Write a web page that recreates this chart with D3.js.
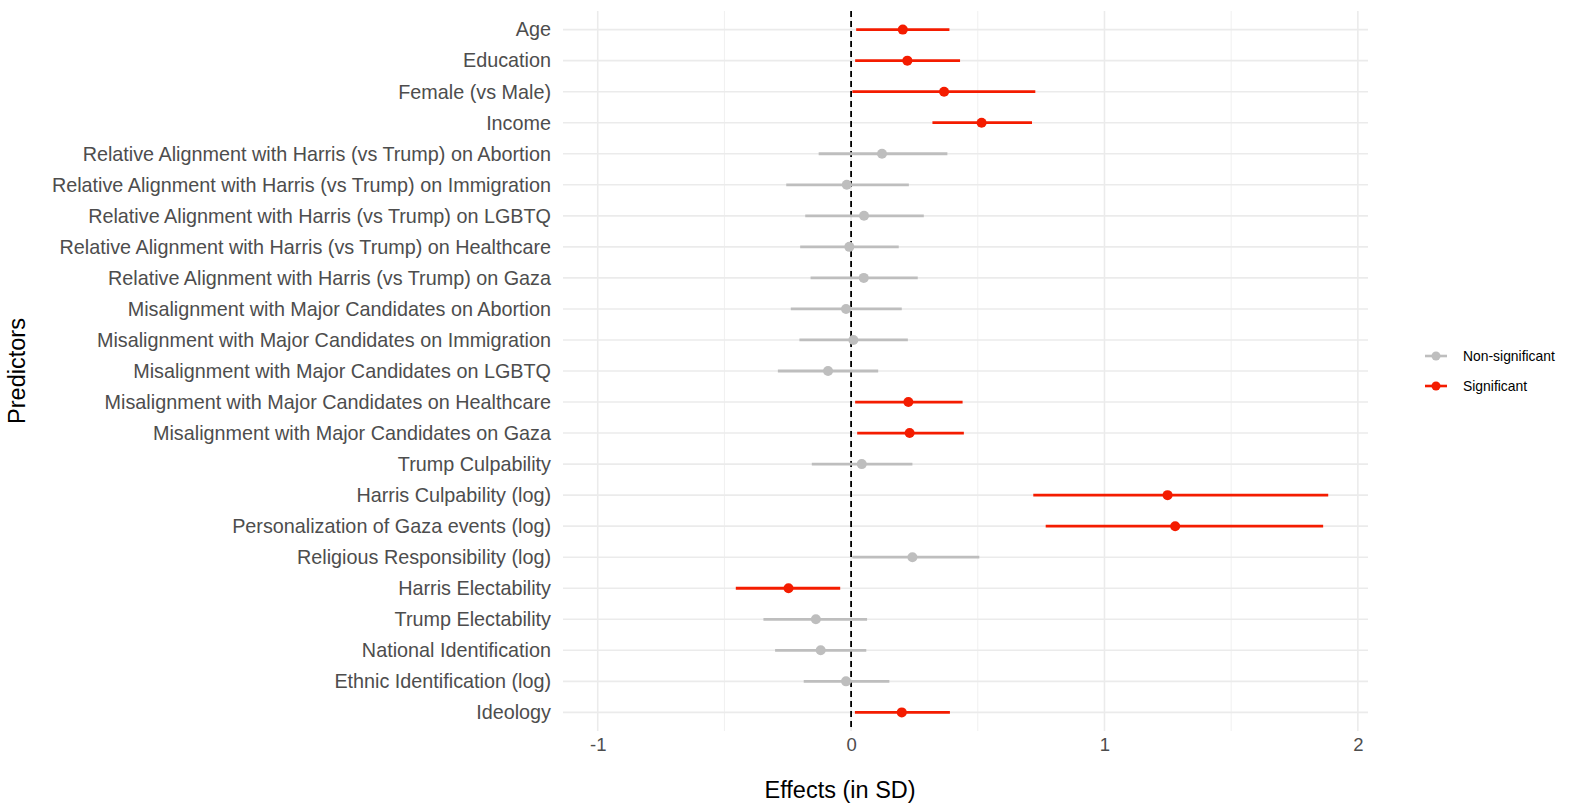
<!DOCTYPE html>
<html>
<head>
<meta charset="utf-8">
<script src="https://cdn.jsdelivr.net/npm/d3@7"></script>
<style>
  body { margin: 0; background: #fff; }
  svg { font-family: "Liberation Sans", Arial, sans-serif; }
</style>
</head>
<body>
<div id="container"></div>
<script>
const width = 1570;
const height = 804;

const predictors = [
  "Age", "Education", "Female (vs Male)", "Income",
  "Relative Alignment with Harris (vs Trump) on Abortion",
  "Relative Alignment with Harris (vs Trump) on Immigration",
  "Relative Alignment with Harris (vs Trump) on LGBTQ",
  "Relative Alignment with Harris (vs Trump) on Healthcare",
  "Relative Alignment with Harris (vs Trump) on Gaza",
  "Misalignment with Major Candidates on Abortion",
  "Misalignment with Major Candidates on Immigration",
  "Misalignment with Major Candidates on LGBTQ",
  "Misalignment with Major Candidates on Healthcare",
  "Misalignment with Major Candidates on Gaza",
  "Trump Culpability", "Harris Culpability (log)",
  "Personalization of Gaza events (log)", "Religious Responsibility (log)",
  "Harris Electability", "Trump Electability",
  "National Identification", "Ethnic Identification (log)", "Ideology"
];
const estimates = [0.204, 0.222, 0.367, 0.515, 0.122, -0.017, 0.051, -0.007, 0.050,
  -0.020, 0.009, -0.091, 0.226, 0.231, 0.042, 1.249, 1.279, 0.242,
  -0.247, -0.139, -0.120, -0.020, 0.200];
const lower = [0.020, 0.016, 0.005, 0.321, -0.128, -0.256, -0.181, -0.201, -0.160,
  -0.238, -0.204, -0.289, 0.016, 0.024, -0.155, 0.719, 0.768, 0.005,
  -0.455, -0.346, -0.300, -0.187, 0.015];
const upper = [0.388, 0.430, 0.727, 0.714, 0.380, 0.228, 0.287, 0.188, 0.263,
  0.200, 0.224, 0.107, 0.440, 0.445, 0.242, 1.883, 1.863, 0.506,
  -0.043, 0.063, 0.060, 0.151, 0.390];
const significance = ["Significant", "Significant", "Significant", "Significant",
  "Non-significant", "Non-significant", "Non-significant", "Non-significant", "Non-significant",
  "Non-significant", "Non-significant", "Non-significant", "Significant", "Significant",
  "Non-significant", "Significant", "Significant", "Non-significant",
  "Significant", "Non-significant", "Non-significant", "Non-significant", "Significant"];
const legendLabels = ["Non-significant", "Significant"];
const xTicks = [-1, 0, 1, 2];
const xMinor = [-0.5, 0.5, 1.5];

const rows = predictors.map((p, i) => ({
  name: p, est: estimates[i], lo: lower[i], hi: upper[i], sig: significance[i]
}));

const panel = { left: 563, right: 1368, top: 11, bottom: 731 };

const x = d3.scaleLinear().domain([-1.137, 2.04]).range([panel.left, panel.right]);
const y = d3.scalePoint().domain(predictors).range([panel.top, panel.bottom]).padding(0.6);
const color = d3.scaleOrdinal().domain(legendLabels).range(["#bebebe", "#f41c00"]);

const svg = d3.select("#container")
  .append("svg")
  .attr("width", width)
  .attr("height", height)
  .attr("viewBox", [0, 0, width, height]);

// grid
svg.append("g")
  .selectAll("line")
  .data(xMinor)
  .join("line")
  .attr("x1", d => x(d)).attr("x2", d => x(d))
  .attr("y1", panel.top).attr("y2", panel.bottom)
  .attr("stroke", "#f0f0f0").attr("stroke-width", 1);

svg.append("g")
  .selectAll("line")
  .data(xTicks)
  .join("line")
  .attr("x1", d => x(d)).attr("x2", d => x(d))
  .attr("y1", panel.top).attr("y2", panel.bottom)
  .attr("stroke", "#ebebeb").attr("stroke-width", 1.6);

svg.append("g")
  .selectAll("line")
  .data(predictors)
  .join("line")
  .attr("x1", panel.left).attr("x2", panel.right)
  .attr("y1", d => y(d)).attr("y2", d => y(d))
  .attr("stroke", "#ebebeb").attr("stroke-width", 1.6);

// zero line
svg.append("line")
  .attr("x1", x(0)).attr("x2", x(0))
  .attr("y1", panel.top).attr("y2", panel.bottom)
  .attr("stroke", "#000")
  .attr("stroke-width", 1.8)
  .attr("stroke-dasharray", "6,4");

// error bars and points
const marks = svg.append("g");
marks.selectAll("line")
  .data(rows)
  .join("line")
  .attr("x1", d => x(d.lo)).attr("x2", d => x(d.hi))
  .attr("y1", d => y(d.name)).attr("y2", d => y(d.name))
  .attr("stroke", d => color(d.sig))
  .attr("stroke-width", 2.8);

marks.selectAll("circle")
  .data(rows)
  .join("circle")
  .attr("cx", d => x(d.est))
  .attr("cy", d => y(d.name))
  .attr("r", 5)
  .attr("fill", d => color(d.sig));

// axes
const xAxis = svg.append("g")
  .attr("transform", `translate(0,${panel.bottom})`)
  .call(d3.axisBottom(x).tickValues(xTicks).tickSize(0).tickPadding(7).tickFormat(d => String(d)));
xAxis.select(".domain").remove();
xAxis.selectAll("text")
  .attr("font-size", 18.5)
  .attr("fill", "#4d4d4d")
  .style("font-family", "Liberation Sans, Arial, sans-serif");

const yAxis = svg.append("g")
  .attr("transform", `translate(${panel.left},0)`)
  .call(d3.axisLeft(y).tickSize(0).tickPadding(12));
yAxis.select(".domain").remove();
yAxis.selectAll("text")
  .attr("font-size", 19.8)
  .attr("fill", "#4d4d4d")
  .style("font-family", "Liberation Sans, Arial, sans-serif");

// axis titles
svg.append("text")
  .attr("x", x(0) - 11)
  .attr("y", 798)
  .attr("text-anchor", "middle")
  .attr("font-size", 23.5)
  .attr("fill", "#000")
  .text("Effects (in SD)");

svg.append("text")
  .attr("transform", `translate(25,${(panel.top + panel.bottom) / 2}) rotate(-90)`)
  .attr("text-anchor", "middle")
  .attr("font-size", 23.5)
  .attr("fill", "#000")
  .text("Predictors");

// legend
const legend = svg.append("g")
  .selectAll("g")
  .data(legendLabels)
  .join("g")
  .attr("transform", (d, i) => `translate(1425,${356 + i * 30})`);

legend.append("line")
  .attr("x1", 0).attr("x2", 22)
  .attr("stroke", d => color(d))
  .attr("stroke-width", 2.6);

legend.append("circle")
  .attr("cx", 11).attr("r", 4.5)
  .attr("fill", d => color(d));

legend.append("text")
  .attr("x", 38)
  .attr("dy", "0.35em")
  .attr("font-size", 13.9)
  .attr("fill", "#000")
  .text(d => d);
</script>
</body>
</html>
